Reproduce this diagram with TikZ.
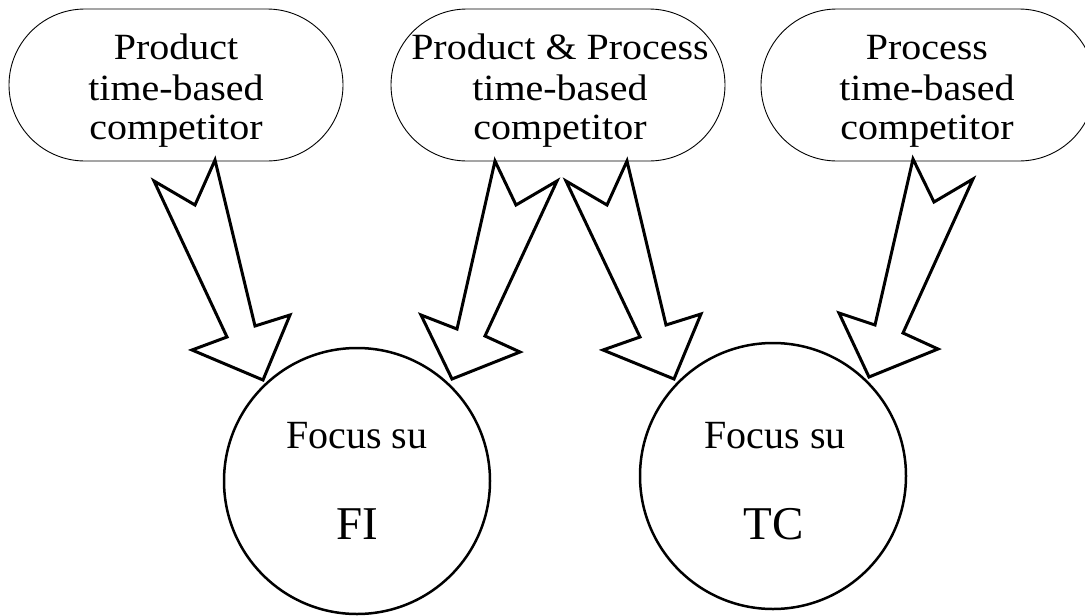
\documentclass[tikz,border=0pt]{standalone}
\usepackage{fontspec}
\setmainfont{Liberation Serif}
\newfontfamily\widefont[FakeStretch=1.08]{Liberation Serif}
\usetikzlibrary{shapes.misc}
\tikzset{
  oval/.style={draw, rounded rectangle, minimum width=334pt, minimum height=152pt, line width=0.9pt, inner sep=0pt},
  focus/.style={draw, circle, minimum size=266pt, line width=2.5pt, inner sep=0pt},
  ovaltext/.style={anchor=base, inner sep=0pt, font=\widefont\fontsize{37}{40}\selectfont},
  focustext/.style={anchor=base, inner sep=0pt, font=\fontsize{40}{44}\selectfont},
  bigtext/.style={anchor=base, inner sep=0pt, font=\fontsize{47}{52}\selectfont},
  blockarrow/.style={draw, line width=3pt, line join=miter}
}
\begin{document}
\begin{tikzpicture}[x=1pt, y=-1pt]
\useasboundingbox (0,0) rectangle (1085,616);
% ovals
\node[oval] (e1) at (176,85) {};
\node[oval] (e2) at (558,85) {};
\node[oval] (e3) at (928,85) {};
\node[ovaltext] (e1a) at (176,59.5) {Product};
\node[ovaltext] (e1b) at (176,100) {time-based};
\node[ovaltext] (e1c) at (176,139.5) {competitor};
\node[ovaltext] (e2a) at (560,59.5) {Product \& Process};
\node[ovaltext] (e2b) at (560,100) {time-based};
\node[ovaltext] (e2c) at (560,139.5) {competitor};
\node[ovaltext] (e3a) at (927,59.5) {Process};
\node[ovaltext] (e3b) at (927,100) {time-based};
\node[ovaltext] (e3c) at (927,139.5) {competitor};
% circles
\node[focus] (fi) at (357,481) {};
\node[focus] (tc) at (773,476) {};
\node[focustext] (fia) at (357,448) {Focus su};
\node[bigtext] (fib) at (357,539) {FI};
\node[focustext] (tca) at (775,448) {Focus su};
\node[bigtext] (tcb) at (774,539) {TC};
% block arrows
\draw[blockarrow] (215,160) -- (195,205) -- (154,181) -- (227,337) -- (192,350) -- (263,380) -- (290,315) -- (255,326) -- cycle;
\draw[blockarrow] (495,161) -- (516,205) -- (557,181) -- (485,336) -- (520,352) -- (452,379) -- (421,315) -- (457,329) -- cycle;
\draw[blockarrow] (627,161) -- (607,205) -- (566,181) -- (640,337) -- (603,350) -- (674,379) -- (701,314) -- (666,325) -- cycle;
\draw[blockarrow] (913,159) -- (934,202) -- (973,179) -- (903,333) -- (938,349) -- (869,377) -- (839,313) -- (875,325) -- cycle;
\end{tikzpicture}
\end{document}
